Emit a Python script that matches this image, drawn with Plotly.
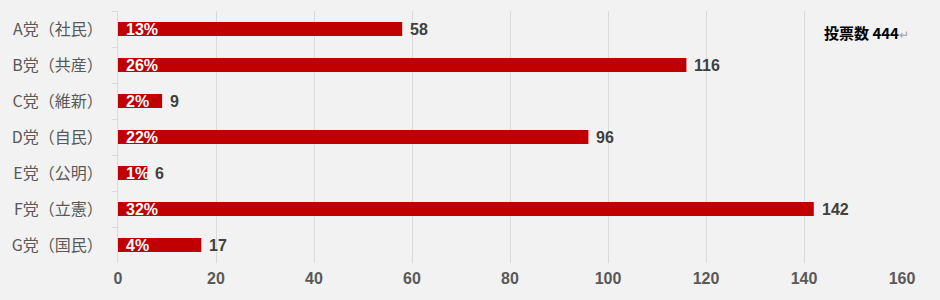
import plotly.graph_objects as go

categories = ["A党（社民）", "B党（共産）", "C党（維新）", "D党（自民）", "E党（公明）", "F党（立憲）", "G党（国民）"]
votes = [58, 116, 9, 96, 6, 142, 17]
percent_labels = ["13%", "26%", "2%", "22%", "1%", "32%", "4%"]
total_label = "投票数 444"
x_ticks = [0, 20, 40, 60, 80, 100, 120, 140, 160]

font_cjk = "Noto Sans CJK JP, Liberation Sans, Arial, sans-serif"
font_num = "Liberation Sans, Arial, sans-serif"

fig = go.Figure()
fig.add_trace(go.Bar(
    x=votes, y=categories, orientation="h",
    marker=dict(color="#c00000", line=dict(width=0)),
    width=0.39, hoverinfo="skip",
))

for cat, v, p in zip(categories, votes, percent_labels):
    fig.add_annotation(x=0, y=cat, text=f"<b>{p}</b>", showarrow=False,
                       xanchor="left", xshift=6, yshift=0,
                       font=dict(family=font_num, size=16, color="#ffffff"))
    fig.add_annotation(x=v, y=cat, text=f"<b>{v}</b>", showarrow=False,
                       xanchor="left", xshift=6,
                       font=dict(family=font_num, size=16, color="#404040"))

fig.add_annotation(xref="paper", yref="paper", x=1.0, y=0.913,
                   text=f"<b>{total_label}</b><span style='color:#a0a0a0;font-size:12px'>↵</span>",
                   showarrow=False, xanchor="right", yanchor="middle", xshift=9,
                   font=dict(family=font_cjk, size=15, color="#000000"))

fig.update_layout(
    width=940, height=300,
    margin=dict(l=118, r=38, t=11, b=37),
    paper_bgcolor="#f2f2f2", plot_bgcolor="#f2f2f2",
    showlegend=False,
    bargap=0.6,
)
fig.update_xaxes(
    range=[0, 160], tickvals=x_ticks, showgrid=True, gridcolor="#d9d9d9", gridwidth=1,
    zeroline=False, showline=False, ticks="",
    tickfont=dict(family=font_num, size=16, color="#595959", weight="bold"),
    ticklabelstandoff=4,
)
fig.update_yaxes(
    categoryorder="array", categoryarray=categories, autorange="reversed",
    showline=True, linecolor="#d9d9d9", linewidth=1,
    ticks="outside", tickson="boundaries", ticklen=5, tickcolor="#d9d9d9",
    showgrid=False,
    tickfont=dict(family=font_cjk, size=16, color="#595959"),
    ticklabelstandoff=11,
)

fig.write_html("out.html")
